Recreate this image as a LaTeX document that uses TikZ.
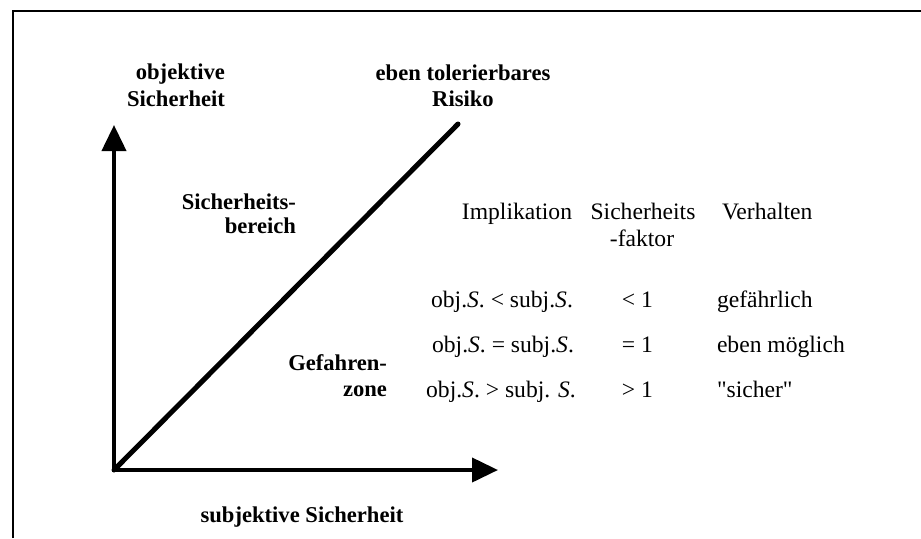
\documentclass[tikz,border=0pt]{standalone}
\usepackage{fontspec}
\setmainfont{Liberation Serif}
\usetikzlibrary{arrows.meta,positioning}

\begin{document}
\begin{tikzpicture}[x=0.5pt,y=-0.5pt,>={Triangle[length=13pt,width=12pt]},
                    line width=2pt]
  \tikzstyle{zone}=[font=\fontsize{11.3}{13}\selectfont\bfseries,inner sep=0pt]
  \tikzstyle{cell}=[font=\fontsize{11.8}{13}\selectfont,inner sep=0pt]

  \useasboundingbox (0,0) rectangle (921,538);
  % open frame, top and left only
  \draw[line width=1.35pt] (13,538) -- (13,11) -- (921,11);

  \coordinate (O) at (114,470);
  \coordinate (Y) at (114,125);
  \coordinate (X) at (498,470);
  \coordinate (R) at (458,124);

  \draw[->] (O) -- (Y);
  \draw[->] (O) -- (X);
  \draw[line width=2.5pt,line cap=round] (O) -- (R);

  \node[zone,align=right,anchor=east,font=\fontsize{11.3}{13.5}\selectfont\bfseries]
       (objS) at (227,85) {objektive\\Sicherheit};
  \node[zone,align=center] (risk) at (463,86) {eben tolerierbares\\Risiko};
  \node[zone,align=right,anchor=east,font=\fontsize{11.3}{12}\selectfont\bfseries]
       (safe) at (298,214) {Sicherheits-\\bereich};
  \node[zone,align=right,anchor=east] (danger) at (389,376) {Gefahren-\\zone};
  \node[zone] (subjS) at (302,517) {subjektive Sicherheit};

  % table
  \node[cell,anchor=base] (impl) at (517,219) {Implikation};
  \node[cell,anchor=base] (fac) at (643,219) {Sicherheits};
  \node[cell,anchor=base] (fac2) at (642,246) {-faktor};
  \node[cell,anchor=base west] (beh) at (720,219) {Verhalten};

  \node[cell,anchor=base] (i1) at (502,307) {obj.\textit{S}. < subj.\textit{S}.};
  \node[cell,anchor=base] (i2) at (503,352) {obj.\textit{S}. = subj.\textit{S}.};
  \node[cell,anchor=base] (i3) at (501,397) {obj.\textit{S}. > subj. \textit{S}.};

  \node[cell,anchor=base east] (f1) at (655,307) {< 1};
  \node[cell,anchor=base east] (f2) at (655,352) {= 1};
  \node[cell,anchor=base east] (f3) at (655,397) {> 1};

  \node[cell,anchor=base west] (b1) at (715,307) {gefährlich};
  \node[cell,anchor=base west] (b2) at (715,352) {eben möglich};
  \node[cell,anchor=base west] (b3) at (715,397) {\textquotedbl sicher\textquotedbl};
\end{tikzpicture}
\end{document}
